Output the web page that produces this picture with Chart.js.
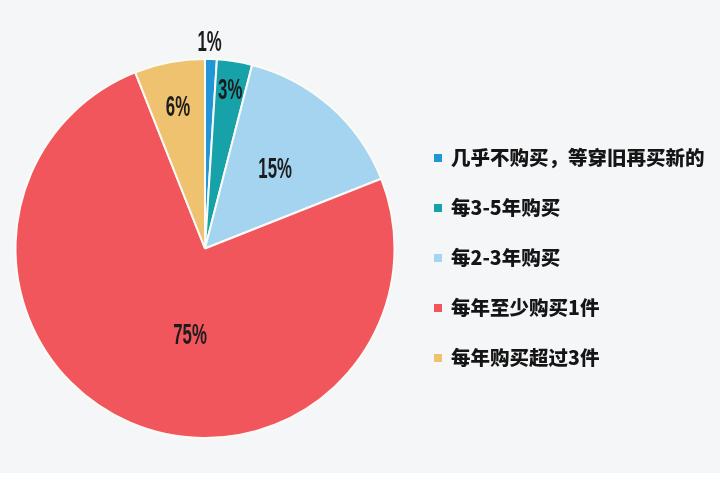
<!DOCTYPE html>
<html>
<head>
<meta charset="utf-8">
<script src="https://cdn.jsdelivr.net/npm/chart.js@4.4.0/dist/chart.umd.min.js"></script>
<style>
html,body{margin:0;padding:0;background:#f5f6f8;}
#wrap{width:720px;height:480px;position:relative;}
</style>
</head>
<body>
<div id="wrap"><canvas id="c" width="720" height="480"></canvas></div>
<script>
const categories = ['几乎不购买，等穿旧再买新的','每3-5年购买','每2-3年购买','每年至少购买1件','每年购买超过3件'];
const percentages = [1, 3, 15, 75, 6];
const valueLabels = ['1%', '3%', '15%', '75%', '6%'];
const sliceColors = ['#2196d6', '#17a2aa', '#a5d4f0', '#f2565d', '#efc270'];

// label placement: [fraction along arc angle, fraction of radius]
const labelPlacement = [[0.35, 1.09], [0.5, 0.85], [0.5, 0.56], [0.45, 0.46], [0.5, 0.76]];

const bgPlugin = {
  id: 'bg',
  beforeDraw(chart) {
    const ctx = chart.ctx;
    ctx.save();
    ctx.fillStyle = '#f5f6f8';
    ctx.fillRect(0, 0, chart.width, chart.height);
    ctx.fillStyle = '#ffffff';
    ctx.fillRect(0, 473, chart.width, chart.height - 473);
    ctx.restore();
  }
};

const labelPlugin = {
  id: 'sliceLabels',
  afterDatasetsDraw(chart) {
    const ctx = chart.ctx;
    const meta = chart.getDatasetMeta(0);
    meta.data.forEach((arc, i) => {
      const p = arc.getProps(['x', 'y', 'startAngle', 'endAngle', 'outerRadius'], true);
      const [af, rf] = labelPlacement[i];
      const ang = p.startAngle + (p.endAngle - p.startAngle) * af;
      const r = p.outerRadius * rf;
      const lx = p.x + Math.cos(ang) * r, ly = p.y + Math.sin(ang) * r;
      ctx.save();
      ctx.translate(lx, ly);
      ctx.scale(0.56, 1);
      ctx.font = 'bold 30px "Liberation Sans", Arial, sans-serif';
      ctx.fillStyle = '#1c1c1c';
      ctx.textAlign = 'center';
      ctx.textBaseline = 'middle';
      ctx.fillText(valueLabels[i], 0, 1);
      ctx.restore();
    });
  }
};

const legendPlugin = {
  id: 'sideLegend',
  afterDraw(chart) {
    const ctx = chart.ctx;
    const labels = chart.data.labels;
    const colors = chart.data.datasets[0].backgroundColor;
    ctx.save();
    ctx.font = '900 19.5px "Noto Sans CJK SC", sans-serif';
    ctx.textBaseline = 'middle';
    ctx.textAlign = 'left';
    const x0 = 434, y0 = 158, step = 50;
    labels.forEach((lab, i) => {
      const y = y0 + i * step;
      ctx.fillStyle = colors[i];
      ctx.fillRect(x0, y - 4, 8, 8);
      ctx.fillStyle = '#151515';
      ctx.fillText(lab, x0 + 17, y);
    });
    ctx.restore();
  }
};

new Chart(document.getElementById('c'), {
  type: 'pie',
  data: {
    labels: categories,
    datasets: [{
      data: percentages,
      backgroundColor: sliceColors,
      borderColor: '#fbfbf6',
      borderWidth: 2
    }]
  },
  options: {
    responsive: false,
    animation: false,
    layout: { padding: { left: 14, top: 58, right: 324, bottom: 41 } },
    plugins: {
      legend: { display: false },
      tooltip: { enabled: false }
    }
  },
  plugins: [bgPlugin, labelPlugin, legendPlugin]
});
</script>
</body>
</html>
